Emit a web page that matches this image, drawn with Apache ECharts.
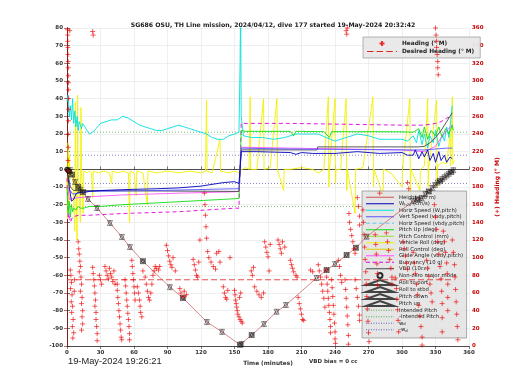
<!DOCTYPE html>
<html><head><meta charset="utf-8">
<script src="https://cdn.jsdelivr.net/npm/echarts/dist/echarts.min.js"></script>
<style>html,body{margin:0;padding:0;background:#fff}#c{width:520px;height:390px}</style>
</head><body><div id="c"></div>
<script>
const titleText = 'SG686 OSU, TH Line mission, 2024/04/12, dive 177 started 19-May-2024 20:32:42';
const startText = '19-May-2024 19:26:21';
const vbdText = 'VBD bias = 0 cc';

// depth (10 m) vs time (min)
const depthT = [0,2.7,7.2,14.3,18.8,26.9,38.5,49.2,56.4,68,92.2,103.8,125.3,138.8,154.9,156.4,165.4,176.4,187.7,196,223.5,232.5,240,250.4,258.7,268.3,310,317.5,329.5,340,347];
const depthV = [0,-0.4,-7.2,-12.9,-16.8,-21.9,-30.4,-38.3,-44,-52,-66.7,-72.8,-86.4,-92,-99.3,-98.9,-93.8,-87.6,-80.6,-76.8,-61.5,-57,-53.6,-48.5,-44.4,-38.1,-18,-16.4,-8.9,-4,0];

// pitch/roll action markers along the depth trace
const pitchT = [2.7,4.5,7.2,10,12,14.3,18.8,26.9,38.5,49.2,56.4,68,92.2,103.8,125.3,138.8,154.9,156.4,165.4,176.4,187.7,196,223.5,232.5,240,250.4,258.7,268.3,310,314,317.5,321,324,327,329.5,332,334,336,338,340,342,344,346];
const pitchD = [-0.4,-3,-7.2,-10,-11.5,-12.9,-16.8,-21.9,-30.4,-38.3,-44,-52,-66.7,-72.8,-86.4,-92,-99.3,-98.9,-93.8,-87.6,-80.6,-76.8,-61.5,-57,-53.6,-48.5,-44.4,-38.1,-18,-17,-16.4,-14,-12.5,-10.5,-8.9,-7.5,-6.5,-5.5,-4.5,-3.5,-2.5,-1.5,-0.5];
const rollT = [4.5,10,14.3,68,103.8,154.9,165.4,232.5,250.4,258.7,314,324,334,344];
const rollD = [-3,-10,-12.9,-52,-72.8,-99.3,-93.8,-57,-48.5,-44.4,-17,-12.5,-6.5,-1.5];
const modeT = [0,1,2];
const modeD = [0,-0.6,-1.2];

// Horizontal speed (cyan)
const hspdT = [0,1,2,3,4,5,6,7,8,9,10,11,12,13,14,16,18,20,23,26,30,35,40,45,50,55,60,65,70,75,80,85,90,95,100,105,110,115,120,125,130,135,140,145,150,154,155,155.5,156,158,165,175,185,195,205,215,225,232,240,250,260,270,280,290,300,305,310,313,315,318,320,323,325,328,330,333,336,338,340,342,344,345];
const hspdV = [38,42,30,36,28,40,26,33,24,30,22,27,25,23,26,24,22,20,21,23,26,27,28,28,30,29,27,25,24,23,22,22,23,24,25,24,23,22,21,20,18,17,17,19,20,21,60,95,30,19,18,18,17,18,20,20,20,18,16,18,20,19,17,17,17,16,19,15,22,14,20,12,19,15,22,13,20,16,24,18,30,36];

// Pitch (green)
const pitchLineT = [0,1,2,3,4,5,6,8,10,12,15,20,30,50,80,110,140,154,155,156,160,180,200,203,205,210,230,235,237,250,280,300,310,315,318,320,323,326,330,333,336,339,342,345,346];
const pitchLineV = [-10,-25,-18,-27,-20,-24,-22,-23,-21,-22,-22,-21,-21,-20,-19,-18,-17,-16.5,0,22,21.5,21.5,21.5,19,21.5,21.5,21.3,18,21.3,21.3,21.3,21.2,21,23,18,24,17,22,19,24,18,23,20,25,22];

// Buoyancy (magenta dashed)
const buoyT = [0,1,2,3,5,10,20,50,100,150,154,155,156,200,250,300,320,330,335,340,345];
const buoyV = [-5,-28,-25,-30,-27,-26,-26,-25,-24,-22,-22,0,26,26,25.5,25,25,26,27,29,30];

// Glide angle (magenta)
const glideT = [1,2,5,10,20,50,100,150,154,155,156,200,250,300,320,330,335,340,345];
const glideV = [-10,-17,-16.5,-16,-15.5,-14.5,-13.5,-12.7,-12.5,0,12.5,12,11.5,11,10,13,18,22,25];

// Vertical speed (blue)
const wT = [0,2,4,6,8,10,15,20,30,50,80,100,120,140,150,154,155,156,170,200,205,210,220,240,260,280,300,305,310,312,315,318,320,323,325,328,330,333,335,338,340,343,345];
const wV = [0,-10,-18,-17,-14,-13,-13,-12.5,-12,-11.5,-11,-10.5,-9.5,-7.5,-7,-8,0,10,10,9.5,8.5,9.5,9,9,10,9,9.5,8,8,11,6,10,7,11,5,9,4,10,5,8,4,7,6];

// Vertical speed from model (violet)
const wmT = [3,5,20,80,150,154,155,156,200,300,320,340,345];
const wmV = [-12,-14,-12.5,-12,-11,-11,0,12,11.5,11,11,12,12];

// VBD (10 cc)
const vbdT = [0,3,6,10,154,155,156,224,224.5,315,320,325,330,335,340,345];
const vbdV = [0,-10,-12,-12,-12.5,0,11,11,12.7,12.7,13,15,18,22,27,32];

// Vehicle roll (yellow)
const rollLine = [[0,2],[0.5,-28],[1,15],[1.5,-20],[2,8],[2.5,-6],[3,0],[4,-3],[5,-1],[6,-2],[7,-35],[7.5,38],[8,-2],[9,-40],[9.5,42],[10,-1],[11,-2],[12,-30],[12.5,35],[13,-1],[14,-2],[14.5,-25],[15,-1],[18,-2],[20,-1],[22,-2],[23,-16],[23.5,-1],[28,-2],[33,-1],[38,-2],[40,-8],[40.5,-1],[46,-2],[50,-1],[55,-2],[56,-30],[56.5,-1],[60,-2],[62,-15],[62.5,-1],[68,-2],[72,-20],[72.5,-1],[80,-2],[90,-1],[100,-2],[110,-1],[120,-2],[124,-1],[125,39],[125.5,-1],[130,-2],[137,17],[137.5,-1],[145,-2],[150,-1],[154,-2],[155,0],[157,0],[160,1],[163,0],[164,41],[164.5,0],[170,0],[176,40],[176.5,0],[182,1],[188,40],[188.5,0],[194,-12],[194.5,0],[200,0],[210,1],[220,0],[225,-2],[230,0],[234,41],[234.5,-10],[235,0],[240,40],[240.5,-8],[241,0],[245,0],[250,40],[250.5,-12],[251,0],[258,-25],[258.5,0],[265,1],[274,41],[274.5,-10],[275,0],[283,-15],[283.5,0],[290,-2],[300,-10],[300.5,0],[307,40],[307.5,-15],[308,0],[316,-12],[316.5,0],[320,2],[323,40],[323.5,-10],[324,1],[331,39],[331.5,-10],[332,2],[336,4],[340,3],[343,20],[343.5,2],[345,41],[345.5,3],[347,5]];

// Reference levels
const intendedPitch = 21;
const wd = 8;
const desiredHeading = 75;
const diveEnd = 347;

// Heading (deg M), right axis
const heading = [
[0.5,358],[0.6,352],[0.7,345],[0.8,338],[0.9,330],[1,322],[1.1,315],[1.2,306],[1.3,298],[1.4,290],[1.5,280],[1.4,268],[1.3,255],[1.2,240],[1.1,225],[1,210],[0.9,198],[2.5,357],[23,356],[23.5,352],
[3,86],[3.5,80],[4,72],[3.2,65],[4.5,58],[3.8,50],[5,45],[4.2,38],[5.5,30],[4.8,22],[6,15],[5.2,9],[6.5,62],[6.8,75],
[10,118],[10.5,110],[11,104],[11.5,96],[12,90],[11,84],[12.5,78],[13,70],[12,62],[13.5,55],[13,48],[14,40],[13.5,33],[14,25],[13,18],
[23,89],[23.5,82],[24,75],[24.5,68],[25,60],[25.5,52],[25,45],[26,38],[26,30],[26.5,22],[27,14],[27,6],[29,80],[30,75],[31,70],
[34,90],[35,85],[36,80],[37,76],[38,88],[39,82],[40,78],[41,73],[42,85],[43,70],
[45,63],[45.5,55],[46,48],[46.5,40],[47,33],[47.5,25],[48,18],[48.5,10],[49,7],[45,70],
[52,75],[52.5,68],[53,60],[53.5,52],[54,45],[54.5,37],[55,30],[55.5,22],[56,14],[56,7],
[58,97],[58.5,90],[59,82],[59.5,75],[60,67],[60.5,60],[61,52],
[63,67],[64,60],[65,52],[65.5,45],[66,38],[67,33],
[68,85],[70,78],[71,70],[72,62],[73,55],[74,52],[75,60],[76,70],[77,80],[78,85],[79,90],[80,88],[82,86],[83,90],
[89,114],[90,108],[91,102],[92,96],[93,92],[94,89],[95,100],[97,85],
[101,65],[102,60],[104,56],[105,62],[107,58],
[113,98],[114,92],[115,86],[116,80],[117,78],[118,95],[119,120],[123,173],[123.5,160],[124,148],[124.5,135],[125,122],
[126,107],[127,100],[129,95],[131,90],[133,87],[134,105],[136,107],[137,95],
[140,67],[141,60],[142,55],[143,53],[144,63],[146,100],
[150,63],[150.5,58],[151,52],[151.5,48],[152,44],[152.5,40],[153,36],[154,33],[155,30],[156,28],[157,26],[155.5,60],[154.5,55],
[165,85],[166,80],[167,89],[168,67],[170,62],[172,58],[174,55],[176,60],
[177,118],[178,112],[179,106],[180,101],[181,85],[182,115],
[189,120],[190,115],[191,110],[192,105],[193,118],[195,112],
[200,97],[201,92],[202,88],[203,84],[205,80],[206,78],
[207,55],[208,48],[209,42],[210,36],[211,30],[212,29],[218,86],[220,84],
[225,92],[226,85],[227,78],[228,70],[229,62],[230,54],[231,44],
[232,86],[232.5,78],[233,70],[233.5,62],[234,54],[234.5,46],[235,38],[235.5,30],[236,22],[236,15],
[237,75],[237.5,66],[238,56],[238.5,46],[239,36],[239.5,26],[240,16],[240,8],[240.5,3],
[243,97],[244,90],[245,80],[246,72],
[249,75],[249.5,64],[250,54],[250.5,44],[251,34],[251.5,24],[252,12],[252,2],
[250,357],[250.5,353],[251,360],
[252.5,150],[253,140],[254,132],[255,125],[256,118],[257,110],[258,105],
[258,75],[259,65],[260,55],[261,45],[262,35],[262,29],
[260,168],[261,158],[262,147],[262,137],
[265,154],[265.5,140],[266,126],[266.5,112],[267,98],[267.5,84],[268,70],[268.5,56],[269,42],[269.5,28],[270,15],[270.5,5],
[276,126],[276.5,115],[277,104],[277.5,93],[278,82],[278,69],[280,173],
[286,128],[287,118],[288,108],[289,98],[290,88],[291,78],[291,70],
[294,77],[295,65],[295.5,53],[296,41],[296.5,29],[297,16],
[301,118],[302,110],[303,102],[304,94],[305,87],[305,185],[306,178],
[310,106],[311,94],[312,82],[313,70],[314,58],[315,46],[316,34],[317,22],[318,10],[318,1],
[322,97],[323,88],[324,79],[325,70],[326,60],[327,50],
[329,160],[330,146],[331,132],[332,118],[333,104],[334,90],[335,76],[335.5,62],[336,48],[336,32],[336,16],
[330,360],[330.5,352],[331,345],[331,338],[331.5,330],[332,322],[332,315],[332.5,307],
[337,130],[338,118],[339,106],[340,94],[340.5,82],[341,70],[341,55],[341,40],
[345,120],[346,106],[347,92],[347.5,78],[348,64],[348.5,50],[349,36],[349.5,22],[350,7]
];

const zip = (a, b) => a.map((v, i) => [v, b[i]]);
const FONT = 'DejaVu Sans';

// legend icon paths (28 x 1 units, drawn as filled bars)
function barIcon(on, off) {
  let p = '', x = 0;
  while (x < 28) { const e = Math.min(28, x + on); p += 'M' + x + ',0H' + e + 'V1H' + x + 'Z'; x = e + off; }
  return 'path://' + p;
}
const ICON = { solid: barIcon(28, 0), dash: barIcon(4, 2.5), dot: barIcon(1, 1.5), longdash: barIcon(6, 3) };
const legendIcons = {};

function line(name, data, color, extra, kind) {
  legendIcons[name] = { icon: ICON[kind || 'solid'], color };
  return Object.assign({
    name, type: 'line', data, symbol: 'none', showSymbol: false, silent: true,
    animation: false, z: 2,
    lineStyle: { color, width: 0.9 }, itemStyle: { color }
  }, extra || {});
}
function marker(name, data, rot, z) {
  return {
    name, type: 'scatter', data, symbol: 'triangle', symbolSize: 5, symbolRotate: rot,
    silent: true, animation: false, z: z || 10,
    itemStyle: { color: 'rgba(0,0,0,0)', borderColor: '#1a1a1a', borderWidth: 0.6 }
  };
}

const series = [
  line('Intended Pitch', [[0, intendedPitch], [360, intendedPitch]], '#55aa55', { lineStyle: { color: '#55aa55', width: 0.8, type: [1, 2] } }, 'dot'),
  line('-Intended Pitch', [[0, -intendedPitch], [360, -intendedPitch]], '#55aa55', { lineStyle: { color: '#55aa55', width: 0.8, type: [1, 2] } }, 'dot'),
  line('w_d', [[0, wd], [360, wd]], '#6666bb', { lineStyle: { color: '#6666bb', width: 0.8, type: [1, 2] } }, 'dot'),
  line('-w_d', [[0, -wd], [360, -wd]], '#6666bb', { lineStyle: { color: '#6666bb', width: 0.8, type: [1, 2] } }, 'dot'),
  line('Vehicle Roll (deg)', rollLine, '#f2f200'),
  line('Pitch Control (mm)', [], '#99dd33'),
  line('Roll Control (deg)', [], '#ddcc00'),
  line('Horiz Speed (W,pitch)', zip(hspdT, hspdV), '#00e0e0'),
  line('Horiz Speed (vbdy,pitch)', [], '#66ccee', null, 'dash'),
  line('Buoyancy (10 g)', zip(buoyT, buoyV), '#dd00dd', { lineStyle: { color: '#dd00dd', width: 0.9, type: [4, 3] } }, 'dash'),
  line('Pitch Up (deg)', zip(pitchLineT, pitchLineV), '#11dd11'),
  line('Glide Angle (vbdy,pitch)', zip(glideT, glideV), '#ff55ff'),
  line('VBD (10cc)', zip(vbdT, vbdV), '#444444'),
  line('Vert Speed (vbdy,pitch)', zip(wmT, wmV), '#5555ff'),
  line('W_h2o (cm/s)', zip(wT, wV), '#0000bb'),
  line('Height (10 m)', zip(depthT, depthV), '#cc5555', { z: 9, lineStyle: { color: '#cc5555', width: 0.7 } }),
  {
    name: 'Heading (° M)', type: 'scatter', yAxisIndex: 1, data: heading,
    symbol: 'path://M5,0L5,10M0,5L10,5', symbolSize: 5, silent: true, animation: false, z: 11,
    itemStyle: { color: 'rgba(0,0,0,0)', borderColor: '#ee0000', borderWidth: 0.8 }
  },
  line('Desired Heading (° M)', [[0, desiredHeading], [diveEnd, desiredHeading]], '#dd2222',
    { yAxisIndex: 1, z: 11, lineStyle: { color: '#dd2222', width: 0.8, type: [6, 3] } }, 'longdash'),
  {
    name: 'Non-zero major mode', type: 'scatter', data: zip(modeT, modeD), symbol: 'circle', symbolSize: 4,
    silent: true, animation: false, z: 10,
    itemStyle: { color: 'rgba(0,0,0,0)', borderColor: '#000', borderWidth: 1.3 }
  },
  marker('Roll to port', zip(rollT, rollD), 90),
  marker('Roll to stbd', zip(rollT, rollD), -90),
  marker('Pitch down', zip(pitchT, pitchD), 180),
  marker('Pitch up', zip(pitchT, pitchD), 0)
];

const legendNames = ['Height (10 m)', 'W_h2o (cm/s)', 'Horiz Speed (W,pitch)', 'Vert Speed (vbdy,pitch)',
  'Horiz Speed (vbdy,pitch)', 'Pitch Up (deg)', 'Pitch Control (mm)', 'Vehicle Roll (deg)', 'Roll Control (deg)',
  'Glide Angle (vbdy,pitch)', 'Buoyancy (10 g)', 'VBD (10cc)', 'Non-zero major mode', 'Roll to port', 'Roll to stbd',
  'Pitch down', 'Pitch up', 'Intended Pitch', '-Intended Pitch', 'w_d', '-w_d'];
const legendItem = n => legendIcons[n]
  ? { name: n, icon: legendIcons[n].icon, itemStyle: { color: legendIcons[n].color, opacity: 1, borderWidth: 0 } }
  : { name: n };

const axisCommon = {
  axisLine: { show: true, lineStyle: { color: '#262626', width: 0.8 } },
  axisTick: { show: true, inside: true, length: 3, lineStyle: { color: '#262626', width: 0.6 } },
  axisLabel: { fontFamily: FONT, fontSize: 5.5, fontWeight: 'bold', color: '#333' },
  splitLine: { show: false }
};

const option = {
  animation: false,
  backgroundColor: '#ffffff',
  textStyle: { fontFamily: FONT },
  title: {
    text: titleText, left: 268, top: 17, textAlign: 'center',
    textStyle: { fontFamily: FONT, fontSize: 6.2, fontWeight: 'bold', color: '#222' }
  },
  grid: { left: 67, right: 51, top: 28, bottom: 44, show: false },
  legend: [
    {
      data: ['Heading (° M)', 'Desired Heading (° M)'].map(legendItem), orient: 'vertical', left: 363, top: 37,
      itemWidth: 30, itemHeight: 5, itemGap: 1, padding: [3, 6, 3, 4],
      backgroundColor: 'rgba(232,232,232,0.95)', borderColor: '#888', borderWidth: 0.6, z: 4,
      selectedMode: false,
      textStyle: { fontFamily: FONT, fontSize: 5.8, fontWeight: 'bold', color: '#222', lineHeight: 7 }
    },
    {
      data: legendNames.map(legendItem), orient: 'vertical', left: 362, top: 191,
      itemWidth: 28, itemHeight: 5, itemGap: 0, padding: [3, 2, 5, 3],
      backgroundColor: 'rgba(226,226,226,0.85)', borderColor: '#777', borderWidth: 0.6, z: 4,
      selectedMode: false,
      formatter: n => n === 'W_h2o (cm/s)' ? 'W{s|h2o} (cm/s)' : n === 'w_d' ? 'w{s|d}' : n === '-w_d' ? '-w{s|d}' : n,
      textStyle: {
        fontFamily: FONT, fontSize: 5.3, color: '#222', lineHeight: 6.5,
        rich: { s: { fontSize: 3.8, verticalAlign: 'bottom', lineHeight: 6.5, fontFamily: FONT } }
      }
    }
  ],
  xAxis: [
    Object.assign({}, axisCommon, {
      type: 'value', min: 0, max: 360, interval: 30, position: 'bottom',
      name: 'Time (minutes)', nameLocation: 'middle', nameGap: 13,
      nameTextStyle: { fontFamily: FONT, fontSize: 5.8, fontWeight: 'bold', color: '#333' },
      axisLabel: { fontFamily: FONT, fontSize: 5.5, fontWeight: 'bold', color: '#333', margin: 4 },
      splitLine: { show: true, lineStyle: { color: '#e4e4e4', width: 0.6 } }
    }),
    Object.assign({}, axisCommon, {
      type: 'value', min: 0, max: 360, interval: 30, position: 'top',
      axisLabel: { show: false }
    })
  ],
  yAxis: [
    Object.assign({}, axisCommon, {
      type: 'value', min: -100, max: 80, interval: 10, position: 'left',
      axisLabel: { fontFamily: FONT, fontSize: 5.5, fontWeight: 'bold', color: '#333', margin: 4 },
      splitLine: { show: true, lineStyle: { color: '#e4e4e4', width: 0.6 } }
    }),
    {
      type: 'value', min: 0, max: 360, interval: 20, position: 'right',
      name: '(+) Heading (° M)', nameLocation: 'middle', nameGap: 23, nameRotate: 90,
      nameTextStyle: { fontFamily: FONT, fontSize: 6, fontWeight: 'bold', color: '#cc0000' },
      axisLine: { show: true, lineStyle: { color: '#8a1010', width: 0.8 } },
      axisTick: { show: true, inside: true, length: 3, lineStyle: { color: '#8a1010', width: 0.6 } },
      axisLabel: { fontFamily: FONT, fontSize: 5.5, fontWeight: 'bold', color: '#cc0000', margin: 3 },
      splitLine: { show: false }
    }
  ],
  graphic: [
    { type: 'text', left: 68, top: 357, style: { text: startText, font: '9.3px "Liberation Sans"', fill: '#222' } },
    { type: 'text', left: 309, top: 359, style: { text: vbdText, font: 'bold 5.5px "DejaVu Sans"', fill: '#333' } }
  ],
  series
};

const chart = echarts.init(document.getElementById('c'), null, { renderer: 'canvas' });
chart.setOption(option);
</script></body></html>
